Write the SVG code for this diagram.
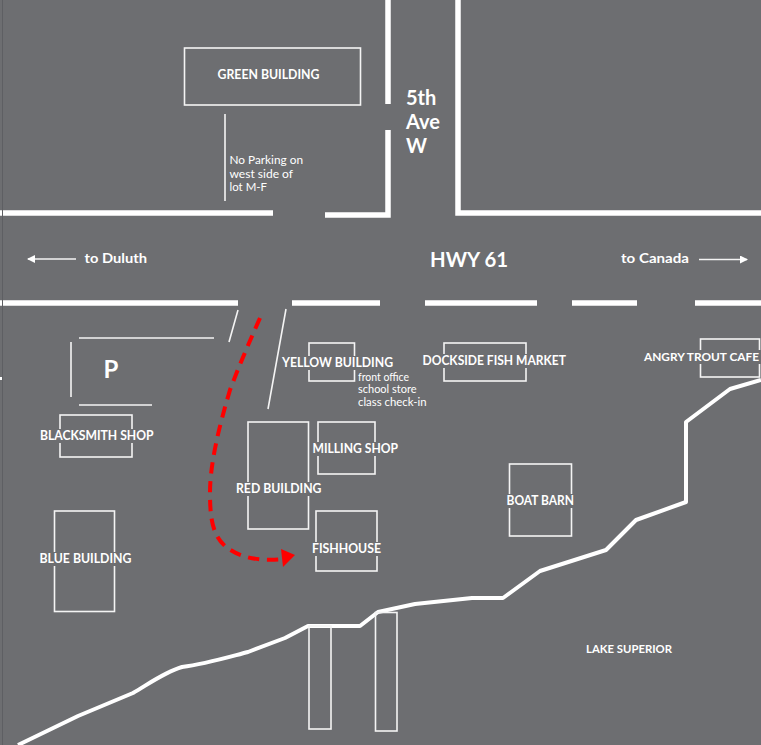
<svg xmlns="http://www.w3.org/2000/svg" width="761" height="745" viewBox="0 0 761 745">
<style>
text{font-family:"Lato","Noto Sans","Liberation Sans",sans-serif;fill:#fff}
.b{font-weight:700;font-size:12.5px}
.n{font-size:11px}
.box{fill:none;stroke:#f4f4f4;stroke-width:1.6}
.ln{fill:none;stroke:#f4f4f4;stroke-width:1.6}
.rd{fill:none;stroke:#fff;stroke-width:5.5}
.sh{fill:none;stroke:#fff;stroke-width:4;stroke-linejoin:round}
.gap{fill:#6d6e71}
.big{font-weight:700;font-size:20px}
.rt{font-weight:700;font-size:14px}
</style>
<defs>
<marker id="w" markerWidth="8" markerHeight="8" refX="7" refY="4" orient="auto" markerUnits="userSpaceOnUse"><path d="M0 0L8 4L0 8Z" fill="#fff"/></marker>
</defs>
<rect width="761" height="745" fill="#6d6e71"/>
<g id="connectors">
<path class="rd" d="M388 0V104M388 130V215H325M273 213H0M458 0V213H761"/>
<path class="rd" d="M0 303H238M292 303H380M425 303H537M572 303H637M695 303H761"/>
<path d="M2.500 0V745" stroke="#5e5f63" stroke-width="1" fill="none"/>
<path d="M0 377H2V380H0Z" fill="#fff"/>
<path class="sh" d="M18 745L78 716L133 693C150 683 165 672 182 667C205 664 225 658 248 652L285 638L308 626H360L378 612L415 604L472 598H503L540 571L606 550L636 520L686 502V422L730 389L761 380"/>
<path class="ln" d="M238 310L229 342M286 309L268 409M79 338H214M71 342V397M79 405H152M225 114V201"/>
<path d="M76 259H28" class="ln" marker-end="url(#w)"/>
<path d="M699 259.500H747" class="ln" marker-end="url(#w)"/>
<path d="M260 318C248 345 239 366 230 390C218 430 210 465 210 493C210 520 213 535 225 546C238 557 258 562 285 559" fill="none" stroke="#f00" stroke-width="4" stroke-dasharray="11.500 7.500"/>
<path d="M281 549L295 555L283 567Z" fill="#f00"/>
</g>
<g id="green-building"><rect class="box" x="184.500" y="48" width="176" height="57"/><text class="b" x="217.500" y="79" textLength="102" lengthAdjust="spacingAndGlyphs">GREEN BUILDING</text></g>
<g id="yellow-building"><rect class="box" x="309" y="343" width="45.500" height="38"/><rect class="gap" x="282" y="356" width="112" height="14"/><text class="b" x="282" y="367" textLength="111" lengthAdjust="spacingAndGlyphs">YELLOW BUILDING</text></g>
<g id="dockside"><rect class="box" x="444" y="343" width="82" height="38"/><rect class="gap" x="422" y="354" width="144" height="14"/><text class="b" x="422.500" y="365" textLength="143.500" lengthAdjust="spacingAndGlyphs">DOCKSIDE FISH MARKET</text></g>
<g id="angry-trout"><rect class="box" x="700.500" y="339" width="59" height="38"/><rect class="gap" x="644" y="350" width="117" height="14"/><text x="644" y="361" font-weight="700" font-size="11.900" textLength="115" lengthAdjust="spacingAndGlyphs">ANGRY TROUT CAFE</text></g>
<g id="blacksmith"><rect class="box" x="60" y="415" width="72" height="42"/><rect class="gap" x="40" y="429" width="114" height="14"/><text class="b" x="40" y="440" textLength="113.500" lengthAdjust="spacingAndGlyphs">BLACKSMITH SHOP</text></g>
<g id="blue-building"><rect class="box" x="54.500" y="511" width="60" height="100.500"/><rect class="gap" x="39" y="552" width="93" height="14"/><text class="b" x="39.500" y="563" textLength="92" lengthAdjust="spacingAndGlyphs">BLUE BUILDING</text></g>
<g id="red-building"><rect class="box" x="248" y="422" width="60.500" height="107"/><rect class="gap" x="236" y="482" width="86" height="14"/><text class="b" x="236" y="493" textLength="85.500" lengthAdjust="spacingAndGlyphs">RED BUILDING</text></g>
<g id="milling-shop"><rect class="box" x="318" y="422" width="57" height="52"/><rect class="gap" x="312" y="442" width="86" height="14"/><text class="b" x="312.500" y="453" textLength="85.500" lengthAdjust="spacingAndGlyphs">MILLING SHOP</text></g>
<g id="fishhouse"><rect class="box" x="316" y="511" width="61" height="60"/><rect class="gap" x="312" y="542" width="69" height="14"/><text class="b" x="312" y="553" textLength="69" lengthAdjust="spacingAndGlyphs">FISHHOUSE</text></g>
<g id="boat-barn"><rect class="box" x="509.500" y="464" width="62" height="72"/><rect class="gap" x="506" y="494" width="69" height="14"/><text class="b" x="506.500" y="505" textLength="67.500" lengthAdjust="spacingAndGlyphs">BOAT BARN</text></g>
<g id="pier-1"><rect class="box" x="309" y="626" width="22" height="103"/></g>
<g id="pier-2"><rect class="box" x="375.500" y="612.500" width="21.500" height="118.500"/></g>
<g id="labels">
<text class="n" x="229.500" y="164" textLength="73.500" lengthAdjust="spacingAndGlyphs">No Parking on</text>
<text class="n" x="229.500" y="178" textLength="63.500" lengthAdjust="spacingAndGlyphs">west side of</text>
<text class="n" x="229.500" y="191" textLength="37.500" lengthAdjust="spacingAndGlyphs">lot M-F</text>
<text class="n" x="358" y="381" textLength="51" lengthAdjust="spacingAndGlyphs">front office</text>
<text class="n" x="358" y="393" textLength="58.500" lengthAdjust="spacingAndGlyphs">school store</text>
<text class="n" x="358" y="406" textLength="68.500" lengthAdjust="spacingAndGlyphs">class check-in</text>
<text class="big"><tspan x="406" y="105">5th</tspan><tspan x="406" y="129">Ave</tspan><tspan x="406" y="153">W</tspan></text>
<text class="big" x="430" y="267" textLength="78" lengthAdjust="spacingAndGlyphs">HWY 61</text>
<text class="rt" x="84.500" y="263" textLength="62.500" lengthAdjust="spacingAndGlyphs">to Duluth</text>
<text class="rt" x="621" y="263" textLength="68" lengthAdjust="spacingAndGlyphs">to Canada</text>
<text x="111" y="377.500" text-anchor="middle" font-weight="700" font-size="24">P</text>
<text x="586" y="653" font-weight="700" font-size="11" textLength="86" lengthAdjust="spacingAndGlyphs">LAKE SUPERIOR</text>
</g>
</svg>
